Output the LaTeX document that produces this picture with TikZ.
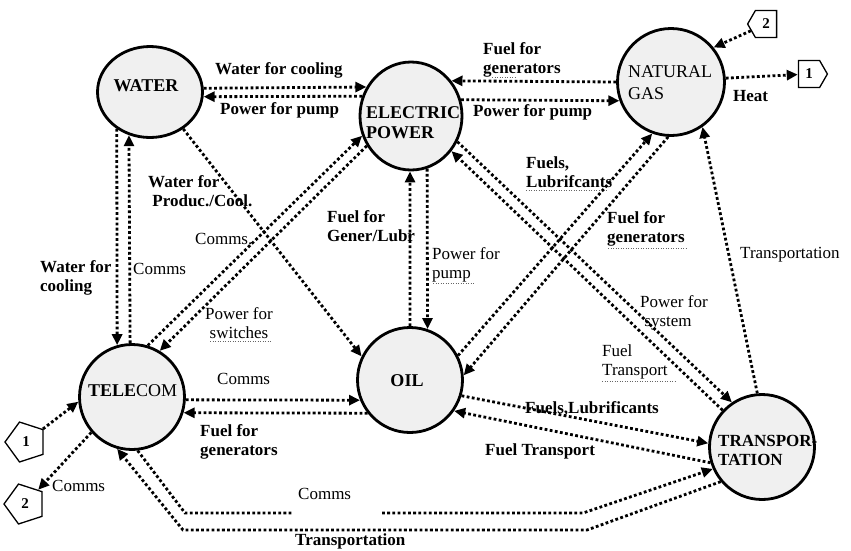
\documentclass[tikz,border=0pt]{standalone}
\usepackage{fontspec}
\setmainfont{Liberation Serif}
\usetikzlibrary{arrows.meta,shapes.geometric,shapes.symbols}
\definecolor{hubgray}{RGB}{240,240,240}
\begin{document}
\begin{tikzpicture}[x=1pt,y=-1pt,
  hub/.style={circle, draw=black, line width=2.8pt, fill=hubgray, inner sep=0pt, minimum size=105pt},
  hubtext/.style={font=\fontsize{18}{20}\selectfont\bfseries, align=left, inner sep=0pt},
  flow/.style={line width=2.8pt, dash pattern=on 2.8pt off 2.4pt, -{Triangle[length=11pt,width=10pt]}},
  lbl/.style={font=\fontsize{17}{19}\selectfont\bfseries, align=left, inner sep=0pt, anchor=west},
  lblr/.style={font=\fontsize{17}{19}\selectfont, align=left, inner sep=0pt, anchor=west},
  uline/.style={line width=0.7pt, dash pattern=on 1pt off 1.5pt, black!60},
  pagelink/.style={draw=black, line width=1.3pt, fill=white, inner sep=0pt, font=\fontsize{15}{15}\selectfont\bfseries}
]
\useasboundingbox (0,0) rectangle (851,550);

% infrastructure hubs
\node[hub, ellipse, minimum width=105pt, minimum height=91pt] (w) at (150,92) {};
\node[hub, ellipse, minimum width=102pt, minimum height=108pt] (ep) at (411,116) {};
\node[hub, minimum size=107pt] (ng) at (671,82) {};
\node[hub] (tc) at (132,397) {};
\node[hub] (oil) at (410,380) {};
\node[hub] (tr) at (762,447) {};

\node[hubtext] (wT) at (146,86) {WATER};
\node[hubtext, anchor=west] (epT) at (366,123) {ELECTRIC\\POWER};
\node[hubtext, anchor=west, font=\fontsize{18}{22}\selectfont] (ngT) at (628,83) {NATURAL\\GAS};
\node[hubtext, anchor=west] (tcT) at (88,391) {TELE{\mdseries COM}};
\node[hubtext] (oilT) at (407,381) {OIL};
\node[hubtext, anchor=west, font=\fontsize{17}{19}\selectfont\bfseries] (trT) at (718,450) {TRANSPOR-\\TATION};

% off-page connectors
\node[pagelink, signal, signal to=east, signal pointer angle=120, minimum width=29pt, minimum height=27pt] (b1) at (809,74) {1};
\node[pagelink, signal, signal to=west, signal pointer angle=120, minimum width=29pt, minimum height=27pt] (b2) at (766,24) {2};
\node[pagelink, regular polygon, regular polygon sides=5, shape border rotate=90, minimum size=42pt] (d1) at (26,442) {1};
\node[pagelink, regular polygon, regular polygon sides=5, shape border rotate=90, minimum size=42pt] (d2) at (25,504) {2};

% bend points of the long bottom routes
\coordinate (c1) at (185,513);
\coordinate (c2) at (292,513);
\coordinate (c3) at (382,513);
\coordinate (c4) at (583,513);
\coordinate (t1) at (587,530);
\coordinate (t2) at (183,530);

% dependencies
\draw[flow] (w.4) -- (ep.147);
\draw[flow] (ep.158) -- (w.-5);
\draw[flow] (ng.180) -- (ep.41);
\draw[flow] (ep.18) -- (ng.200);
\draw[flow] (ng.4) -- (b1);
\draw[flow] (b2) -- (ng.39);
\draw[flow] (d1) -- (tc.185);
\draw[flow] (tc.221) -- (d2);
\draw[flow] (w.228) -- (tc.106);
\draw[flow] (tc.92) -- (w.244);
\draw[flow] (w.-48) -- (oil.154);
\draw[flow] (tc.73) -- (ep.202);
\draw[flow] (ep.214) -- (tc.59);
\draw[flow] (oil.90) -- (ep.-91);
\draw[flow] (ep.-73) -- (oil.71);
\draw[flow] (oil.27) -- (ng.250);
\draw[flow] (ng.-93) -- (oil.5);
\draw[flow] (ep.-29) -- (tr.124);
\draw[flow] (tr.137) -- (ep.-41);
\draw[flow] (tr.95) -- (ng.-55);
\draw[flow] (oil.-17) -- (tr.176);
\draw[flow] (tr.197) -- (oil.-35);
\draw[flow] (tc.-3) -- (oil.202);
\draw[flow] (oil.218) -- (tc.-17);
\draw[flow] (tc.-84) -- (c1) -- (c2) (c3) -- (c4) -- (tr.204);
\draw[flow] (tr.220) -- (t1) -- (t2) -- (tc.254);

% flow labels
\node[lbl] (l1) at (215,70) {Water for cooling};
\node[lbl] (l2) at (220,110) {Power for pump};
\node[lbl] (l3) at (483,60) {Fuel for\\generators};
\node[lbl] (l4) at (473,112) {Power for pump};
\node[lbl] (l5) at (733,96) {Heat};
\node[lbl] (l6) at (526,172) {Fuels,\\Lubrifcants};
\node[lbl] (l7) at (607,229) {Fuel for\\generators};
\node[lblr] (l8) at (740,255) {Transportation};
\node[lblr] (l9) at (640,313) {Power for\\\ system};
\node[lblr] (l10) at (602,362) {Fuel\\Transport};
\node[lbl] (l11) at (525,409) {Fuels,Lubrificants};
\node[lbl] (l12) at (485,451) {Fuel Transport};
\node[lbl] (l13) at (148,191) {Water for\\\ Produc./Cool.};
\node[lblr] (l14) at (195,239) {Comms.};
\node[lbl] (l15) at (327,226) {Fuel for\\Gener/Lubr};
\node[lblr] (l16) at (432,265) {Power for\\pump};
\node[lbl] (l17) at (40,278) {Water for\\cooling};
\node[lblr] (l18) at (133,269) {Comms};
\node[lblr, align=center] (l19) at (205,323) {Power for\\switches};
\node[lblr] (l20) at (217,379) {Comms};
\node[lbl] (l21) at (200,442) {Fuel for\\generators};
\node[lblr] (l22) at (52,486) {Comms};
\node[lblr] (l23) at (298,494) {Comms};
\node[lbl] (l24) at (295,541) {Transportation};

% dotted underlines under some words
\draw[uline] (492,77) -- (515,77);
\draw[uline] (526,190) -- (608,190);
\draw[uline] (608,248) -- (686,248);
\draw[uline] (433,283) -- (475,283);
\draw[uline] (210,341) -- (271,341);
\draw[uline] (602,381) -- (677,381);
\end{tikzpicture}
\end{document}
